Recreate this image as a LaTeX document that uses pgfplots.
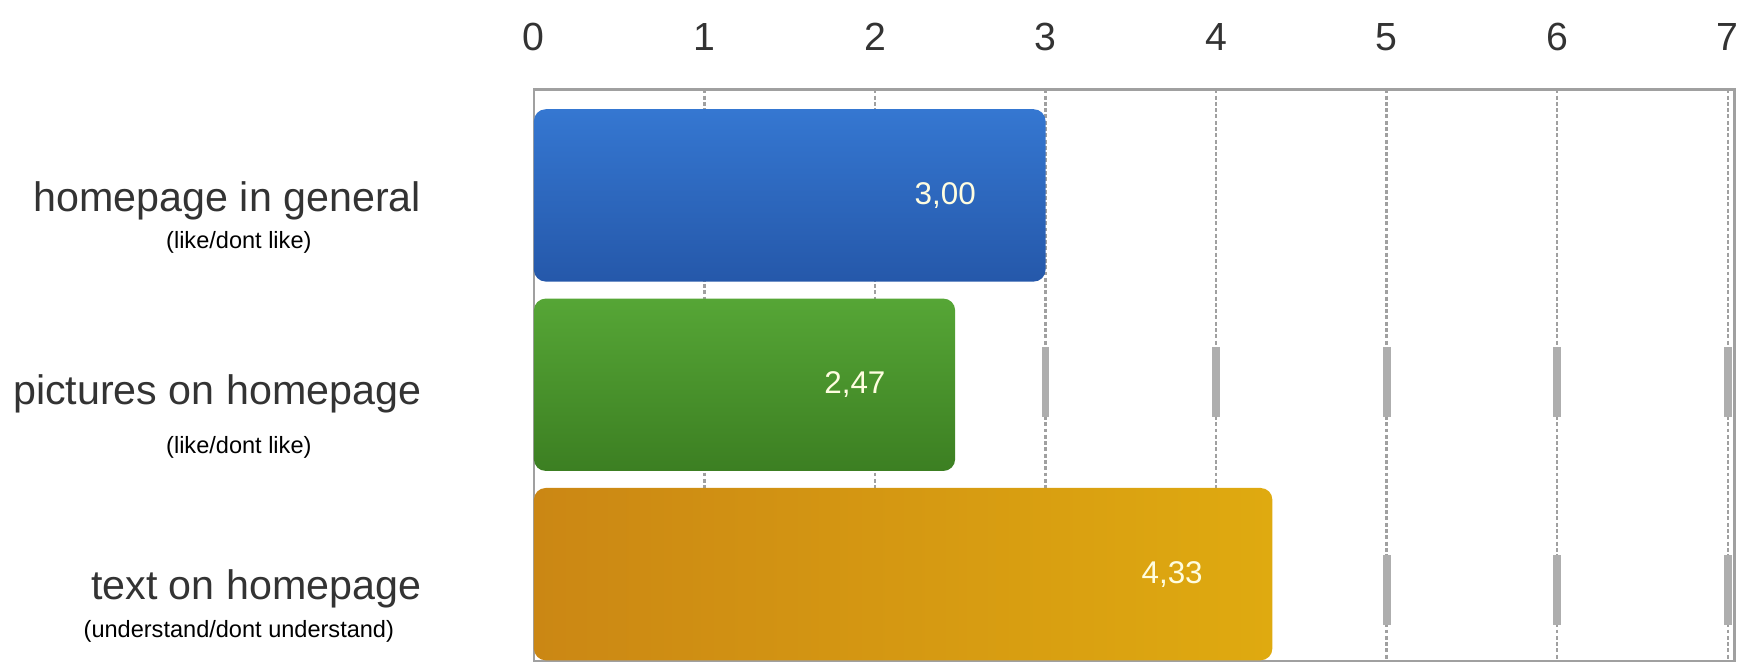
\documentclass[border=0pt]{standalone}
\usepackage{fontspec}
\setmainfont{Liberation Sans}
\usepackage{pgfplots}
\pgfplotsset{compat=1.18}

\definecolor{blueT}{HTML}{3577D1}
\definecolor{blueB}{HTML}{2558AA}
\definecolor{greenT}{HTML}{56A636}
\definecolor{greenB}{HTML}{3C7F22}
\definecolor{orangeL}{HTML}{CB8714}
\definecolor{orangeR}{HTML}{DFAA10}
\definecolor{gridgray}{HTML}{A0A0A0}

\begin{document}
\begin{tikzpicture}
\useasboundingbox (0,0) rectangle (15.65cm,5.97cm);
\begin{axis}[
    at={(4.78cm,0.05cm)}, anchor=south west,
    scale only axis, width=10.75cm, height=5.12cm,
    xbar, bar shift=0pt, bar width=0.91,
    xmin=0, xmax=7.04, ymin=-0.56, ymax=2.46, y dir=reverse,
    xtick={0,...,7}, xticklabel pos=upper, ytick=\empty,
    major tick length=0pt,
    xmajorgrids,
    major grid style={gridgray, dash pattern=on 1pt off 0.6pt, line width=0.6pt},
    axis line style={gridgray, line width=0.6pt},
    xticklabel style={font=\fontsize{10}{12}\selectfont, text=black!80, yshift=2.2mm},
    /pgf/number format/assume math mode=true,
    clip=false,
    point meta=x,
    nodes near coords={\pgfmathprintnumber[fixed,fixed zerofill,precision=2,use comma]{\pgfplotspointmeta}},
    nodes near coords style={anchor=east, xshift=-0.5cm, font=\fontsize{8}{10}\selectfont, text=white!88!yellow},
]

% gray wall pieces between the bars
\pgfplotsinvokeforeach{3,...,7}{
    \draw[gridgray!85, line width=0.7mm] (axis cs:#1,0.80) -- (axis cs:#1,1.17);
}
\pgfplotsinvokeforeach{5,6,7}{
    \draw[gridgray!85, line width=0.7mm] (axis cs:#1,1.90) -- (axis cs:#1,2.27);
}

\addplot[draw=none, top color=blueT, bottom color=blueB, rounded corners=3pt]
    coordinates {(3.00,0)};
\addplot[draw=none, top color=greenT, bottom color=greenB, rounded corners=3pt]
    coordinates {(2.47,1)};
\addplot[draw=none, left color=orangeL, right color=orangeR, rounded corners=3pt]
    coordinates {(4.33,2)};

% category labels
\node[anchor=east, font=\fontsize{10.5}{12}\selectfont, text=black!80] at (axis cs:-0.58,0.03) {homepage in general};
\node[font=\fontsize{6}{7}\selectfont] at (axis cs:-1.73,0.25) {(like/dont like)};
\node[anchor=east, font=\fontsize{10.5}{12}\selectfont, text=black!80] at (axis cs:-0.58,1.05) {pictures on homepage};
\node[font=\fontsize{6}{7}\selectfont] at (axis cs:-1.73,1.33) {(like/dont like)};
\node[anchor=east, font=\fontsize{10.5}{12}\selectfont, text=black!80] at (axis cs:-0.58,2.08) {text on homepage};
\node[font=\fontsize{6}{7}\selectfont] at (axis cs:-1.73,2.30) {(understand/dont understand)};

\end{axis}
\end{tikzpicture}
\end{document}
